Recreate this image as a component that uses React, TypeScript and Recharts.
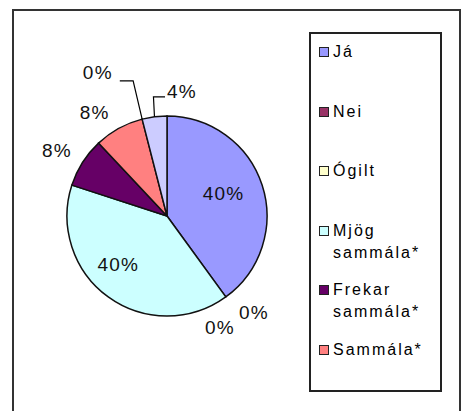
import React from 'react';
import { PieChart, Pie, Cell, Legend } from 'recharts';

const categories = ['Já', 'Nei', 'Ógilt', 'Mjög sammála*', 'Frekar sammála*', 'Sammála*', 'Frekar ósammála*', 'Mjög ósammála*'];
const values = [10, 0, 0, 10, 2, 2, 0, 1];
const colors = ['#9999FF', '#993366', '#FFFFCC', '#CCFFFF', '#660066', '#FF8080', '#0066CC', '#CCCCFF'];
const legendShown = 6;

const data = categories.map((name, i) => ({ name, value: values[i] }));

// label placement (layout only): angle shift from mid-angle (deg, clockwise), radius, optional leader line
const labelLayout: { shift: number; r: number; leader?: { elbowDx: number; lineDy: number; endDx: number } }[] = [
  { shift: -4, r: 61 },
  { shift: -6, r: 130 },
  { shift: 10.5, r: 123 },
  { shift: 9, r: 69 },
  { shift: -1.8, r: 128 },
  { shift: -6.2, r: 126 },
  { shift: -11.4, r: 159, leader: { elbowDx: -9, lineDy: 8, endDx: 22 } },
  { shift: 14.1, r: 125, leader: { elbowDx: -1, lineDy: 5, endDx: -17 } },
];

const FONT = '"Liberation Sans", Arial, sans-serif';

const renderLabel = (props: any) => {
  const { cx, cy, midAngle, outerRadius, index, percent } = props;
  const lay = labelLayout[index];
  if (!lay) return null;
  const theta = 90 - midAngle; // clockwise from top
  const rad = Math.PI / 180;
  const a = (theta + lay.shift) * rad;
  const x = cx + lay.r * Math.sin(a);
  const y = cy - lay.r * Math.cos(a);
  const txt = `${Math.round((percent || 0) * 100)}%`;
  let leader = null;
  if (lay.leader) {
    const ex = cx + outerRadius * Math.sin(theta * rad);
    const ey = cy - outerRadius * Math.cos(theta * rad);
    const ly = y + lay.leader.lineDy;
    const elx = ex + lay.leader.elbowDx;
    const endx = x + lay.leader.endDx;
    leader = (
      <polyline points={`${ex},${ey} ${elx},${ly} ${endx},${ly}`} fill="none" stroke="#000" strokeWidth={1.2} />
    );
  }
  return (
    <g key={`lbl-${index}`}>
      {leader}
      <text x={x} y={y} textAnchor="middle" dominantBaseline="central" fontFamily={FONT} fontSize={19} letterSpacing={1.2} fill="#111">
        {txt}
      </text>
    </g>
  );
};

const LegendBox = () => {
  const items = categories.slice(0, legendShown);
  return (
    <div
      style={{
        position: 'relative',
        width: 133,
        height: 360,
        boxSizing: 'border-box',
        border: '2px solid #222',
        background: '#fff',
        fontFamily: FONT,
        fontSize: 16,
        letterSpacing: 2,
        color: '#000',
      }}
    >
      {items.map((name, i) => (
        <div key={name} style={{ position: 'absolute', left: 8, top: 7 + i * 59.6, width: 122, lineHeight: '22px' }}>
          <span
            style={{
              position: 'absolute',
              left: 0,
              top: 6,
              width: 10,
              height: 10,
              boxSizing: 'border-box',
              border: '1px solid #222',
              background: colors[i],
            }}
          />
          <div style={{ marginLeft: 14, width: 106, textAlign: 'left' }}>{name}</div>
        </div>
      ))}
    </div>
  );
};

export default function App() {
  return (
    <div style={{ position: 'absolute', left: 0, top: 0, width: 468, height: 411, overflow: 'hidden', background: '#fff' }}>
      <div
        style={{
          position: 'absolute',
          left: 12,
          top: 9,
          width: 449,
          height: 420,
          boxSizing: 'border-box',
          border: '2px solid #333',
        }}
      />
      <div style={{ position: 'absolute', left: 0, top: 0 }}>
        <PieChart width={468} height={411}>
          <Pie
            data={data}
            dataKey="value"
            nameKey="name"
            cx={162}
            cy={211}
            outerRadius={100}
            startAngle={90}
            endAngle={-270}
            stroke="#111"
            strokeWidth={1.5}
            label={renderLabel}
            labelLine={false}
            isAnimationActive={false}
          >
            {data.map((d, i) => (
              <Cell key={d.name} fill={colors[i]} />
            ))}
          </Pie>
          <Legend
            layout="vertical"
            align="right"
            verticalAlign="top"
            content={<LegendBox />}
            wrapperStyle={{ position: 'absolute', left: 309, top: 32, width: 133, height: 360, margin: 0 }}
          />
        </PieChart>
      </div>
    </div>
  );
}
